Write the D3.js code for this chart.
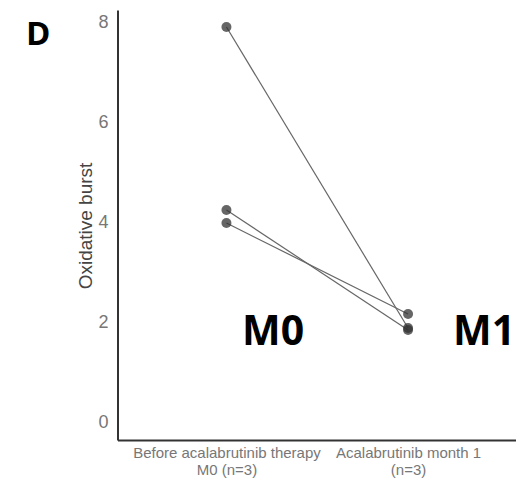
<!DOCTYPE html>
<html>
<head>
<meta charset="utf-8">
<script src="https://cdn.jsdelivr.net/npm/d3@7"></script>
<style>
  body { margin: 0; background: #fff; }
  svg { display: block; }
</style>
</head>
<body>
<div id="chart"></div>
<script>
// timepoints on the x axis
const categories = ['M0', 'M1'];
const categoryLines = [
    ['Before acalabrutinib therapy', 'M0 (n=3)'],
    ['Acalabrutinib month 1', '(n=3)']
];
// one series per patient: [M0, M1]
const patient1 = [7.9, 1.88];
const patient2 = [4.24, 1.84];
const patient3 = [3.98, 2.16];
const patients = [patient1, patient2, patient3];
const yTicks = [0, 2, 4, 6, 8];

const width = 516, height = 480;

const svg = d3.select('#chart')
    .append('svg')
    .attr('width', width)
    .attr('height', height);

const xScale = d3.scalePoint()
    .domain(categories)
    .range([117.5, 517])
    .padding(0.6);

const yScale = d3.scaleLinear()
    .domain([-0.36, 8.24])
    .range([440, 10]);

// y axis
const yAxis = d3.axisLeft(yScale).tickValues(yTicks).tickSize(0).tickPadding(9);
const gy = svg.append('g')
    .attr('transform', 'translate(117.5,0)')
    .call(yAxis);
gy.select('.domain').attr('stroke', '#333').attr('stroke-width', 2);
gy.selectAll('text')
    .attr('font-family', 'Liberation Sans, Arial, sans-serif')
    .attr('font-size', 18)
    .attr('fill', '#777');

// x axis
const xAxis = d3.axisBottom(xScale).tickSize(0).tickFormat('');
const gx = svg.append('g')
    .attr('transform', 'translate(0,440)')
    .call(xAxis);
gx.select('.domain').attr('stroke', '#333').attr('stroke-width', 2);

gx.selectAll('.tick').each(function(d, i) {
    const t = d3.select(this).select('text')
        .attr('y', 0)
        .attr('dy', null)
        .attr('font-family', 'Liberation Sans, Arial, sans-serif')
        .attr('font-size', 15)
        .attr('fill', '#777')
        .text(null);
    categoryLines[i].forEach((line, k) => {
        t.append('tspan')
            .attr('x', 0)
            .attr('y', 18 + k * 17)
            .text(line);
    });
});

// y axis title
svg.append('text')
    .attr('transform', 'translate(92,226) rotate(-90)')
    .attr('text-anchor', 'middle')
    .attr('font-family', 'Liberation Sans, Arial, sans-serif')
    .attr('font-size', 19)
    .attr('fill', '#444')
    .text('Oxidative burst');

// paired lines
const line = d3.line()
    .x((d, i) => xScale(categories[i]))
    .y(d => yScale(d));

svg.selectAll('path.pair')
    .data(patients)
    .enter()
    .append('path')
    .attr('class', 'pair')
    .attr('d', line)
    .attr('fill', 'none')
    .attr('stroke', '#666')
    .attr('stroke-width', 1.2);

// points
patients.forEach(p => {
    svg.selectAll(null)
        .data(p)
        .enter()
        .append('circle')
        .attr('cx', (d, i) => xScale(categories[i]))
        .attr('cy', d => yScale(d))
        .attr('r', 5)
        .attr('fill', '#333')
        .attr('fill-opacity', 0.75);
});

// panel letter and timepoint labels
svg.append('text')
    .attr('x', 26)
    .attr('y', 45)
    .attr('font-family', 'Open Sans, Liberation Sans, sans-serif')
    .attr('font-weight', 'bold')
    .attr('font-size', 33)
    .attr('fill', '#000')
    .text('D');

svg.selectAll('text.big')
    .data(categories)
    .enter()
    .append('text')
    .attr('class', 'big')
    .attr('x', (d, i) => i === 0 ? 242 : 453)
    .attr('y', 345)
    .attr('font-family', 'Open Sans, Liberation Sans, sans-serif')
    .attr('font-weight', 'bold')
    .attr('font-size', 41)
    .attr('fill', '#000')
    .text(d => d);
</script>
</body>
</html>
